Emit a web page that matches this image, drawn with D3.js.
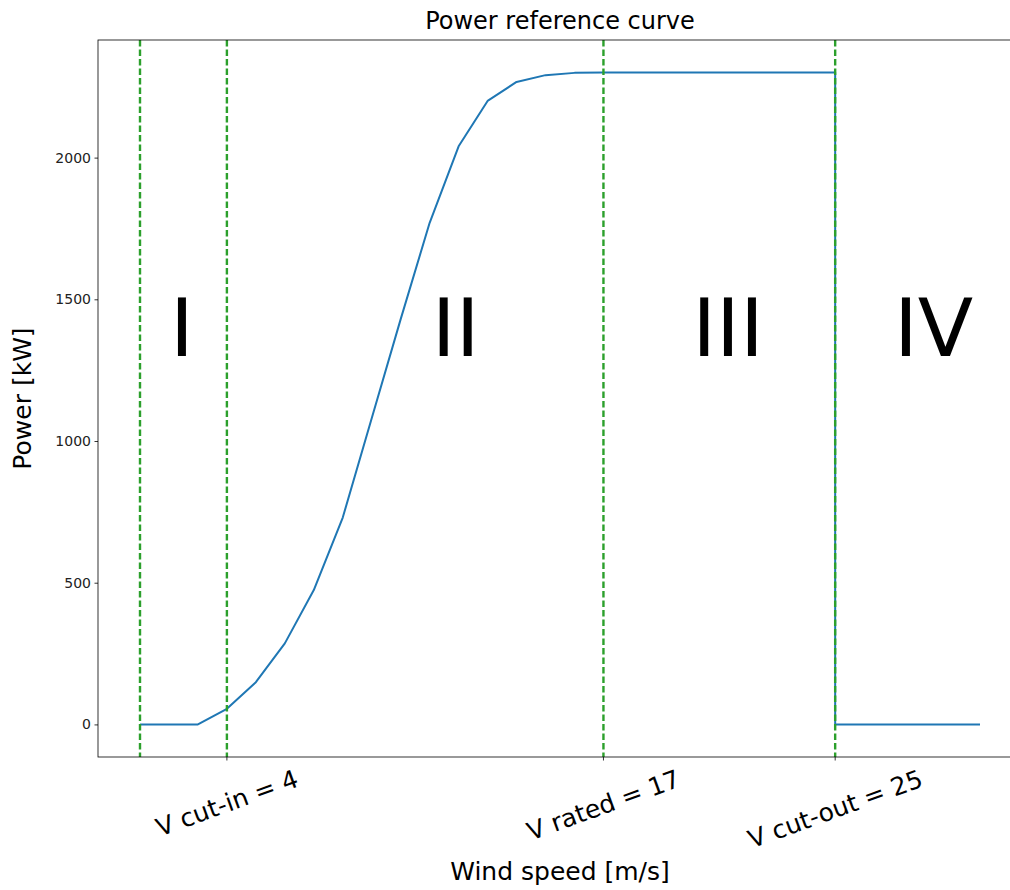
<!DOCTYPE html>
<html>
<head>
<meta charset="utf-8">
<script src="https://cdn.jsdelivr.net/npm/d3@7"></script>
<style>
  body { margin: 0; background: #fff; }
  svg { display: block; font-family: "DejaVu Sans", sans-serif; }
</style>
</head>
<body>
<svg id="chart" width="1010" height="890"></svg>
<script>
// wind speed [m/s] and power [kW]
const windSpeed = [1, 2, 3, 4, 5, 6, 7, 8, 9, 10, 11, 12, 13, 14, 15, 16, 17, 18, 19, 20,
                   21, 22, 23, 24, 25, 25, 26, 27, 28, 29, 30];
const power = [0, 0, 0, 55, 149, 286, 474, 730, 1080, 1430, 1770, 2040, 2200, 2267, 2291, 2299, 2300, 2300, 2300, 2300,
               2300, 2300, 2300, 2300, 2300, 0, 0, 0, 0, 0, 0];

// vertical marker lines
const markerX = [1, 4, 17, 25];

// x tick labels
const xTickValues = [4, 17, 25];
const xTickLabels = ["V cut-in = 4", "V rated = 17", "V cut-out = 25"];

// y ticks
const yTickValues = [0, 500, 1000, 1500, 2000];

// region labels
const regionNames = ["I", "II", "III", "IV"];
const regionX = [2.45, 11.9, 21.3, 28.4];
const regionY = [1300, 1300, 1300, 1300];

var svg = d3.select("#chart");

// plot frame (note: can't call it "top", that's window.top)
var pLeft = 98, pRight = 1022, pTop = 40, pBottom = 757;

// matplotlib style 5% margins
var x = d3.scaleLinear().domain([-0.45, 31.45]).range([pLeft, pRight]);
var y = d3.scaleLinear().domain([-115, 2415]).range([pBottom, pTop]);

// power curve
var data = windSpeed.map(function(v, i) { return [v, power[i]]; });
var line = d3.line()
    .x(function(d) { return x(d[0]); })
    .y(function(d) { return y(d[1]); });

svg.append("path")
    .datum(data)
    .attr("d", line)
    .attr("fill", "none")
    .attr("stroke", "#1f77b4")
    .attr("stroke-width", 2)
    .attr("stroke-linejoin", "round");

// dashed marker lines
svg.selectAll("line.marker")
    .data(markerX)
    .enter()
    .append("line")
    .attr("class", "marker")
    .attr("x1", function(d) { return x(d); })
    .attr("x2", function(d) { return x(d); })
    .attr("y1", pTop)
    .attr("y2", pBottom)
    .attr("stroke", "#2ca02c")
    .attr("stroke-width", 2.4)
    .attr("stroke-dasharray", "6.5,3");

// region labels
svg.selectAll("text.region")
    .data(regionNames)
    .enter()
    .append("text")
    .attr("class", "region")
    .attr("x", function(d, i) { return x(regionX[i]); })
    .attr("y", function(d, i) { return y(regionY[i]); })
    .attr("text-anchor", "middle")
    .style("font-size", "81px")
    .attr("fill", "#000")
    .text(function(d) { return d; });

// frame
svg.append("rect")
    .attr("x", pLeft)
    .attr("y", pTop)
    .attr("width", pRight - pLeft)
    .attr("height", pBottom - pTop)
    .attr("fill", "none")
    .attr("stroke", "#000")
    .attr("stroke-width", 0.8);

// y axis
var yAxis = svg.append("g")
    .attr("transform", "translate(" + pLeft + ",0)")
    .call(d3.axisLeft(y).tickValues(yTickValues).tickSize(3.5).tickPadding(3.5).tickFormat(d3.format("d")));
yAxis.select(".domain").remove();
yAxis.selectAll("text").style("font-size", "14px").style("font-family", "DejaVu Sans").attr("fill", "#222");
yAxis.selectAll("line").attr("stroke", "#000").attr("stroke-width", 0.8);

// x axis ticks
svg.selectAll("line.xtick")
    .data(xTickValues)
    .enter()
    .append("line")
    .attr("class", "xtick")
    .attr("x1", function(d) { return x(d); })
    .attr("x2", function(d) { return x(d); })
    .attr("y1", pBottom)
    .attr("y2", pBottom + 3.5)
    .attr("stroke", "#000")
    .attr("stroke-width", 0.8);

// rotated x tick labels, bbox top-centred under tick like matplotlib
var ang = 20 * Math.PI / 180;
var fs = 25;
xTickValues.forEach(function(v, i) {
    var t = svg.append("text")
        .attr("text-anchor", "middle")
        .attr("dy", "0.35em")
        .style("font-size", fs + "px")
        .attr("fill", "#000")
        .text(xTickLabels[i]);
    var w = t.node().getComputedTextLength();
    var h = fs * 1.16;
    var H = w * Math.sin(ang) + h * Math.cos(ang);
    var cy = pBottom + 7 + H / 2;
    t.attr("transform", "translate(" + x(v) + "," + cy + ") rotate(-20)");
});

// axis titles
svg.append("text")
    .attr("x", (pLeft + pRight) / 2)
    .attr("y", 880)
    .attr("text-anchor", "middle")
    .style("font-size", "25px")
    .text("Wind speed [m/s]");

svg.append("text")
    .attr("transform", "translate(31," + (pTop + pBottom) / 2 + ") rotate(-90)")
    .attr("text-anchor", "middle")
    .style("font-size", "25px")
    .text("Power [kW]");

svg.append("text")
    .attr("x", (pLeft + pRight) / 2)
    .attr("y", 29)
    .attr("text-anchor", "middle")
    .style("font-size", "24px")
    .text("Power reference curve");
</script>
</body>
</html>
